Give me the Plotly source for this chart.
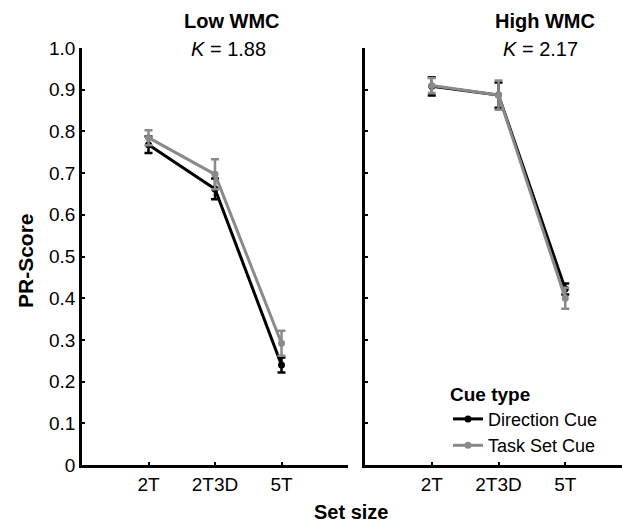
import plotly.graph_objects as go

set_sizes = ["2T", "2T3D", "5T"]
xpos = [1, 2, 3]

low_direction = [0.768, 0.662, 0.240]
low_direction_err = [0.020, 0.025, 0.018]
low_task = [0.785, 0.697, 0.292]
low_task_err = [0.018, 0.036, 0.030]

high_direction = [0.908, 0.887, 0.422]
high_direction_err = [0.022, 0.030, 0.013]
high_task = [0.910, 0.887, 0.400]
high_task_err = [0.018, 0.035, 0.025]

BLACK = "#000000"
GRAY = "#8a8a8a"
FONT = "Liberation Sans, Arial, sans-serif"

fig = go.Figure()

def add(x, y, err, color, name, xaxis, yaxis, show):
    fig.add_trace(go.Scatter(
        x=x, y=y, mode="lines+markers", name=name,
        line=dict(color=color, width=3),
        marker=dict(color=color, size=7, symbol="circle"),
        error_y=dict(type="data", array=err, color=color, thickness=2.5, width=4),
        xaxis=xaxis, yaxis=yaxis, showlegend=show,
    ))

add(xpos, low_direction, low_direction_err, BLACK, "Direction Cue", "x", "y", True)
add(xpos, low_task, low_task_err, GRAY, "Task Set Cue", "x", "y", True)
add(xpos, high_direction, high_direction_err, BLACK, "Direction Cue", "x2", "y2", False)
add(xpos, high_task, high_task_err, GRAY, "Task Set Cue", "x2", "y2", False)

yd = [1 - 465 / 524, 1 - 48 / 524]
axis_common = dict(showline=True, linecolor="black", linewidth=2.5, ticks="inside",
                   ticklen=3, tickwidth=2, tickcolor="black", showgrid=False, zeroline=False,
                   automargin=False,
                   tickfont=dict(family=FONT, size=19, color="black"))

fig.update_layout(
    width=622, height=524,
    margin=dict(l=0, r=0, t=0, b=0, pad=0, autoexpand=False),
    paper_bgcolor="white", plot_bgcolor="white",
    font=dict(family=FONT, color="black", size=16),
    xaxis=dict(domain=[82 / 622, 348 / 622], range=[0, 4], tickvals=[1, 2, 3, 4],
               ticktext=set_sizes + [""], **axis_common),
    yaxis=dict(domain=yd, range=[0, 1], tickvals=[0, 0.1, 0.2, 0.3, 0.4, 0.5, 0.6, 0.7, 0.8, 0.9, 1.0],
               ticktext=["0", "0.1", "0.2", "0.3", "0.4", "0.5", "0.6", "0.7", "0.8", "0.9", "1.0"],
               **axis_common),
    xaxis2=dict(domain=[365 / 622, 1.0], range=[0, 3.85], tickvals=[1, 2, 3],
                ticktext=set_sizes, anchor="y2", **axis_common),
    yaxis2=dict(domain=yd, range=[0, 1], tickvals=[0.1, 0.2, 0.3, 0.4, 0.5, 0.6, 0.7, 0.8, 0.9, 1.0],
                showticklabels=False, anchor="x2", **axis_common),
    legend=dict(x=448 / 622, y=1 - 376 / 524, xanchor="left", yanchor="top",
                bgcolor="rgba(0,0,0,0)", itemwidth=30, tracegroupgap=0,
                title=dict(text="<b>Cue type</b>", font=dict(family=FONT, size=19)),
                font=dict(family=FONT, size=18, color="black")),
)

ann = [
    dict(text="<b>Low WMC</b>", x=232 / 622, y=1 - 21 / 524, size=20),
    dict(text="<i>K</i> = 1.88", x=228 / 622, y=1 - 49 / 524, size=20),
    dict(text="<b>High WMC</b>", x=545 / 622, y=1 - 21 / 524, size=20),
    dict(text="<i>K</i> = 2.17", x=540 / 622, y=1 - 49 / 524, size=20),
    dict(text="<b>Set size</b>", x=351 / 622, y=1 - 512 / 524, size=20),
]
for a in ann:
    fig.add_annotation(text=a["text"], x=a["x"], y=a["y"], xref="paper", yref="paper",
                       showarrow=False, xanchor="center", yanchor="middle",
                       font=dict(family=FONT, size=a["size"], color="black"))
fig.add_annotation(text="<b>PR-Score</b>", x=25 / 622, y=1 - 261 / 524, xref="paper", yref="paper",
                   showarrow=False, textangle=-90, xanchor="center", yanchor="middle",
                   font=dict(family=FONT, size=21, color="black"))

fig.write_html("out.html")
